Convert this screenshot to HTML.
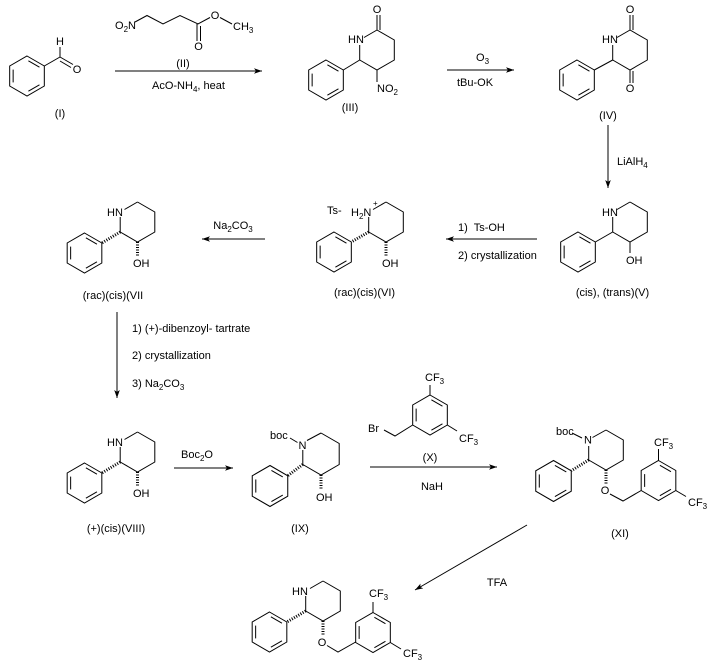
<!DOCTYPE html>
<html>
<head>
<meta charset="utf-8">
<style>
html,body{margin:0;padding:0;background:#fff;}
svg{display:block;}
text{font-family:"Liberation Sans",Arial,sans-serif;font-size:11px;fill:#000;}
.s{font-size:8px;}
</style>
</head>
<body>
<svg width="710" height="667" viewBox="0 0 710 667" xmlns="http://www.w3.org/2000/svg">
<defs>
  <marker id="ah" markerWidth="10" markerHeight="8" refX="8" refY="4" orient="auto" markerUnits="userSpaceOnUse">
    <path d="M0,1.2 L8,4 L0,6.8 L2,4 Z" fill="#000"/>
  </marker>
  <g id="bz" fill="none" stroke="#000" stroke-width="1">
    <polygon points="0,-20 17.32,-10 17.32,10 0,20 -17.32,10 -17.32,-10"/>
    <line x1="-13.86" y1="-6.4" x2="-13.86" y2="6.4"/>
    <line x1="1.39" y1="-15.2" x2="12.47" y2="-8.8"/>
    <line x1="12.47" y1="8.8" x2="1.39" y2="15.2"/>
  </g>
</defs>

<g fill="none" stroke="#000" stroke-width="1">
<!-- (I) -->
<use href="#bz" transform="translate(27,76)"/>
<line x1="44.3" y1="66" x2="60" y2="57"/>
<line x1="60" y1="57" x2="60" y2="47"/>
<line x1="60" y1="57" x2="73" y2="64.5"/>
<line x1="60" y1="61" x2="71" y2="67.5"/>

<!-- (II) -->
<polyline points="135,22 147,15.5 163,24 180,15.5 198,24 210,17.5"/>
<line x1="220" y1="17.5" x2="232" y2="24"/>
<line x1="197" y1="24" x2="197" y2="41"/>
<line x1="200.5" y1="26" x2="200.5" y2="41"/>

<!-- arrow 1 -->
<line x1="115" y1="71" x2="262" y2="71" marker-end="url(#ah)"/>

<!-- (III) -->
<use href="#bz" transform="translate(326,80)"/>
<line x1="343.3" y1="70" x2="359.7" y2="60"/>
<line x1="359.7" y1="60" x2="359.7" y2="45"/>
<line x1="364" y1="37.5" x2="377" y2="30"/>
<polyline points="377,30 394.3,40 394.3,60 377,70 359.7,60"/>
<line x1="377" y1="30" x2="377" y2="15"/>
<line x1="380" y1="30" x2="380" y2="15"/>
<line x1="377" y1="70" x2="377" y2="82"/>

<!-- arrow 2 -->
<line x1="447" y1="70" x2="514" y2="70" marker-end="url(#ah)"/>

<!-- (IV) -->
<use href="#bz" transform="translate(577,80)"/>
<line x1="594.3" y1="70" x2="612.7" y2="60"/>
<line x1="612.7" y1="60" x2="612.7" y2="45"/>
<line x1="617" y1="37.5" x2="630" y2="30"/>
<polyline points="630,30 647.3,40 647.3,60 630,70 612.7,60"/>
<line x1="630" y1="30" x2="630" y2="15"/>
<line x1="633" y1="30" x2="633" y2="15"/>
<line x1="630" y1="70" x2="630" y2="83"/>
<line x1="633" y1="71" x2="633" y2="83"/>

<!-- LiAlH4 arrow -->
<line x1="608" y1="125" x2="608" y2="188" marker-end="url(#ah)"/>

<!-- (V) -->
<use href="#bz" transform="translate(578,252)"/>
<line x1="595.3" y1="242" x2="612.7" y2="232"/>
<line x1="612.7" y1="232" x2="612.7" y2="217"/>
<line x1="617" y1="209.5" x2="630" y2="202"/>
<polyline points="630,202 647.3,212 647.3,232 630,242 612.7,232"/>
<line x1="630" y1="242" x2="630" y2="253"/>

<!-- Ts-OH arrow -->
<line x1="537" y1="239" x2="446" y2="239" marker-end="url(#ah)"/>

<!-- (VI) -->
<use href="#bz" transform="translate(334,252)"/>
<line x1="368.7" y1="232" x2="368.7" y2="217"/>
<line x1="373" y1="209.5" x2="386" y2="202"/>
<polyline points="386,202 403.3,212 403.3,232 386,242 368.7,232"/>
<line x1="368.7" y1="232" x2="351.3" y2="242" stroke-width="3" stroke-dasharray="1,1.5"/>
<line x1="386" y1="242" x2="386" y2="256" stroke-width="3" stroke-dasharray="1,1.5"/>

<!-- Na2CO3 arrow -->
<line x1="265" y1="239" x2="202" y2="239" marker-end="url(#ah)"/>

<!-- (VII) -->
<use href="#bz" transform="translate(84.5,253)"/>
<line x1="120.2" y1="232" x2="120.2" y2="217"/>
<line x1="124.5" y1="209.5" x2="137.5" y2="202"/>
<polyline points="137.5,202 154.8,212 154.8,232 137.5,242 120.2,232"/>
<line x1="120.2" y1="232" x2="101.8" y2="243" stroke-width="3" stroke-dasharray="1,1.5"/>
<line x1="137.5" y1="242" x2="137.5" y2="256" stroke-width="3" stroke-dasharray="1,1.5"/>

<!-- vertical arrow -->
<line x1="117" y1="312" x2="117" y2="398" marker-end="url(#ah)"/>

<!-- (VIII) -->
<use href="#bz" transform="translate(84.5,483)"/>
<line x1="120.2" y1="462" x2="120.2" y2="447"/>
<line x1="124.5" y1="439.5" x2="137.5" y2="432"/>
<polyline points="137.5,432 154.8,442 154.8,462 137.5,472 120.2,462"/>
<line x1="120.2" y1="462" x2="101.8" y2="473" stroke-width="3" stroke-dasharray="1,1.5"/>
<line x1="137.5" y1="472" x2="137.5" y2="486" stroke-width="3" stroke-dasharray="1,1.5"/>

<!-- Boc2O arrow -->
<line x1="174" y1="468" x2="233" y2="468" marker-end="url(#ah)"/>

<!-- (IX) -->
<use href="#bz" transform="translate(270,486) scale(1.025)"/>
<line x1="290" y1="438" x2="297.5" y2="442.5"/>
<line x1="307" y1="440.5" x2="321" y2="433"/>
<line x1="302.8" y1="464.5" x2="302.8" y2="450"/>
<polyline points="321,433 339.2,443.5 339.2,464.5 321,475 302.8,464.5"/>
<line x1="302.8" y1="464.5" x2="287.8" y2="475.7" stroke-width="3" stroke-dasharray="1,1.5"/>
<line x1="321" y1="475" x2="321" y2="489" stroke-width="3" stroke-dasharray="1,1.5"/>

<!-- (X) -->
<use href="#bz" transform="translate(430,415)"/>
<line x1="430" y1="395" x2="430" y2="385"/>
<line x1="447.3" y1="425" x2="457" y2="431"/>
<polyline points="412.7,425 395,436 384,430"/>

<!-- NaH arrow -->
<line x1="370" y1="467" x2="497" y2="467" marker-end="url(#ah)"/>

<!-- (XI) -->
<use href="#bz" transform="translate(553.5,481) scale(1.025)"/>
<line x1="572" y1="433" x2="582" y2="438"/>
<line x1="592.5" y1="437.5" x2="606" y2="430"/>
<line x1="588.7" y1="460" x2="588.7" y2="446"/>
<polyline points="606,430 623.3,440 623.3,460 606,470 588.7,460"/>
<line x1="588.7" y1="460" x2="571.3" y2="470.7" stroke-width="3" stroke-dasharray="1,1.5"/>
<line x1="606" y1="470" x2="606" y2="484" stroke-width="3" stroke-dasharray="1,1.5"/>
<polyline points="610,494 623,501 641.2,490.5"/>
<use href="#bz" transform="translate(658.5,480.5)"/>
<line x1="658.5" y1="460.5" x2="658.5" y2="449"/>
<line x1="675.8" y1="490.5" x2="686" y2="496.5"/>

<!-- TFA arrow -->
<line x1="527" y1="525" x2="415" y2="590" marker-end="url(#ah)"/>

<!-- final -->
<use href="#bz" transform="translate(269.5,632)"/>
<line x1="310" y1="588.5" x2="323" y2="581"/>
<line x1="305.7" y1="611" x2="305.7" y2="596"/>
<polyline points="323,581 340.3,591 340.3,611 323,621 305.7,611"/>
<line x1="305.7" y1="611" x2="286.8" y2="622" stroke-width="3" stroke-dasharray="1,1.5"/>
<line x1="323" y1="621" x2="323" y2="635" stroke-width="3" stroke-dasharray="1,1.5"/>
<polyline points="327,645.5 338,652 355.7,642"/>
<use href="#bz" transform="translate(373,632.5)"/>
<line x1="373" y1="612.5" x2="373" y2="602"/>
<line x1="390.3" y1="642.5" x2="401" y2="649"/>
</g>

<!-- TEXT -->
<!-- (I) -->
<text x="60" y="45" text-anchor="middle">H</text>
<text x="77" y="73" text-anchor="middle">O</text>
<text x="60" y="117" text-anchor="middle">(I)</text>
<!-- (II) -->
<text x="115" y="29">O<tspan class="s" dy="3">2</tspan><tspan dy="-3">N</tspan></text>
<text x="215" y="19" text-anchor="middle">O</text>
<text x="233" y="30">CH<tspan class="s" dy="3">3</tspan></text>
<text x="198.5" y="50" text-anchor="middle">O</text>
<text x="183" y="67" text-anchor="middle">(II)</text>
<text x="152" y="89">AcO-NH<tspan class="s" dy="3">4</tspan><tspan dy="-3">, heat</tspan></text>
<!-- (III) -->
<text x="377" y="13" text-anchor="middle">O</text>
<text x="348" y="43">HN</text>
<text x="377" y="92">NO<tspan class="s" dy="3">2</tspan></text>
<text x="350" y="111" text-anchor="middle">(III)</text>
<!-- O3 -->
<text x="476" y="61">O<tspan class="s" dy="3">3</tspan></text>
<text x="457" y="86">tBu-OK</text>
<!-- (IV) -->
<text x="630" y="13" text-anchor="middle">O</text>
<text x="602" y="43">HN</text>
<text x="630" y="92" text-anchor="middle">O</text>
<text x="608" y="119" text-anchor="middle">(IV)</text>
<text x="617" y="165">LiAlH<tspan class="s" dy="3">4</tspan></text>
<!-- (V) -->
<text x="602" y="216">HN</text>
<text x="626" y="264">OH</text>
<text x="612.5" y="296" text-anchor="middle">(cis), (trans)(V)</text>
<!-- Ts-OH -->
<text x="458" y="231" xml:space="preserve">1)  Ts-OH</text>
<text x="458" y="259">2) crystallization</text>
<!-- (VI) -->
<text x="327" y="214">Ts-</text>
<text x="351" y="216">H<tspan class="s" dy="3">2</tspan><tspan dy="-3">N</tspan></text>
<text x="373" y="206" class="s">+</text>
<text x="382" y="267">OH</text>
<text x="364.5" y="296" text-anchor="middle">(rac)(cis)(VI)</text>
<!-- Na2CO3 -->
<text x="233" y="229" text-anchor="middle">Na<tspan class="s" dy="3">2</tspan><tspan dy="-3">CO</tspan><tspan class="s" dy="3">3</tspan></text>
<!-- (VII) -->
<text x="107" y="216">HN</text>
<text x="133" y="267">OH</text>
<text x="113" y="299" text-anchor="middle">(rac)(cis)(VII</text>
<text x="132" y="332">1) (+)-dibenzoyl- tartrate</text>
<text x="132" y="359">2) crystallization</text>
<text x="132" y="387">3) Na<tspan class="s" dy="3">2</tspan><tspan dy="-3">CO</tspan><tspan class="s" dy="3">3</tspan></text>
<!-- (VIII) -->
<text x="107" y="446">HN</text>
<text x="133" y="497">OH</text>
<text x="116" y="532" text-anchor="middle">(+)(cis)(VIII)</text>
<text x="197" y="458" text-anchor="middle">Boc<tspan class="s" dy="3">2</tspan><tspan dy="-3">O</tspan></text>
<!-- (IX) -->
<text x="270" y="439">boc</text>
<text x="302.5" y="449" text-anchor="middle">N</text>
<text x="316" y="501">OH</text>
<text x="300" y="532" text-anchor="middle">(IX)</text>
<!-- (X) -->
<text x="425" y="381">CF<tspan class="s" dy="3">3</tspan></text>
<text x="459" y="442">CF<tspan class="s" dy="3">3</tspan></text>
<text x="368" y="432">Br</text>
<text x="430" y="461" text-anchor="middle">(X)</text>
<text x="432" y="490" text-anchor="middle">NaH</text>
<!-- (XI) -->
<text x="556" y="435">boc</text>
<text x="588" y="443.5" text-anchor="middle">N</text>
<text x="605" y="494" text-anchor="middle">O</text>
<text x="654" y="446">CF<tspan class="s" dy="3">3</tspan></text>
<text x="688" y="506">CF<tspan class="s" dy="3">3</tspan></text>
<text x="620" y="537" text-anchor="middle">(XI)</text>
<text x="497" y="586" text-anchor="middle">TFA</text>
<!-- final -->
<text x="292" y="595">HN</text>
<text x="322" y="646" text-anchor="middle">O</text>
<text x="369" y="597">CF<tspan class="s" dy="3">3</tspan></text>
<text x="403" y="657">CF<tspan class="s" dy="3">3</tspan></text>
</svg>
</body>
</html>
